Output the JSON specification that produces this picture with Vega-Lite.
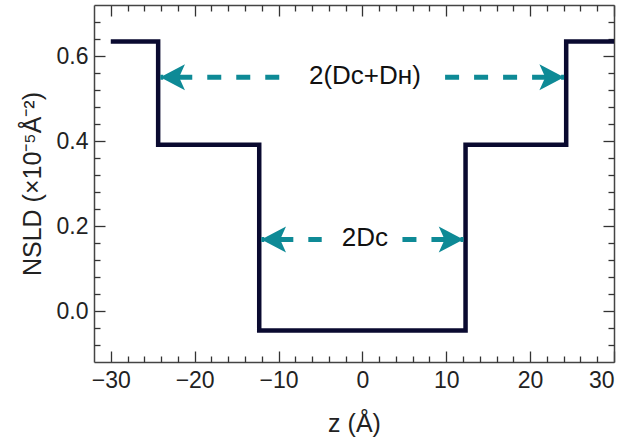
{
  "$schema": "https://vega.github.io/schema/vega-lite/v6.json",
  "autosize": {"type": "none"},
  "width": 520,
  "height": 357,
  "padding": {"left": 94, "top": 5, "right": 14, "bottom": 76},
  "background": "white",
  "config": {
    "view": {"stroke": null},
    "font": "Liberation Sans",
    "axis": {
      "grid": false,
      "domainColor": "#444444",
      "domainWidth": 1.5,
      "tickColor": "#333333",
      "tickWidth": 1.3,
      "labelFont": "Liberation Sans",
      "titleFont": "Liberation Sans",
      "labelColor": "#222222",
      "titleColor": "#222222",
      "labelFontSize": 23,
      "titleFontSize": 25,
      "titleFontWeight": "normal"
    }
  },
  "datasets": {
    "profile": [
      {"i": 0, "z": -30, "nsld": 0.634},
      {"i": 1, "z": -24.35, "nsld": 0.634},
      {"i": 2, "z": -24.35, "nsld": 0.391},
      {"i": 3, "z": -12.3, "nsld": 0.391},
      {"i": 4, "z": -12.3, "nsld": -0.046},
      {"i": 5, "z": 12.3, "nsld": -0.046},
      {"i": 6, "z": 12.3, "nsld": 0.391},
      {"i": 7, "z": 24.3, "nsld": 0.391},
      {"i": 8, "z": 24.3, "nsld": 0.634},
      {"i": 9, "z": 30, "nsld": 0.634}
    ],
    "arrows": [
      {"seg": "ul", "i": 0, "z": -24.1, "nsld": 0.55},
      {"seg": "ul", "i": 1, "z": -9.7, "nsld": 0.55},
      {"seg": "ur", "i": 0, "z": 24.05, "nsld": 0.55},
      {"seg": "ur", "i": 1, "z": 8.85, "nsld": 0.55},
      {"seg": "ll", "i": 0, "z": -12.05, "nsld": 0.168},
      {"seg": "ll", "i": 1, "z": -4.85, "nsld": 0.168},
      {"seg": "lr", "i": 0, "z": 12.05, "nsld": 0.168},
      {"seg": "lr", "i": 1, "z": 4.7, "nsld": 0.168}
    ],
    "heads": [
      {"z": -24.1, "nsld": 0.55, "dir": "left"},
      {"z": 24.05, "nsld": 0.55, "dir": "right"},
      {"z": -12.05, "nsld": 0.168, "dir": "left"},
      {"z": 12.05, "nsld": 0.168, "dir": "right"}
    ],
    "labels": [
      {"z": 0.3, "nsld": 0.553, "text": "2(Dᴄ+Dʜ)"},
      {"z": 0.3, "nsld": 0.171, "text": "2Dᴄ"}
    ]
  },
  "resolve": {"axis": {"x": "independent", "y": "independent"}},
  "layer": [
    {
      "data": {"name": "profile"},
      "mark": {"type": "line", "color": "#0a0a30", "strokeWidth": 4.5, "strokeJoin": "miter"},
      "encoding": {
        "x": {
          "field": "z", "type": "quantitative",
          "scale": {"domain": [-32, 30], "nice": false, "zero": false},
          "axis": {"orient": "bottom", "title": "z (Å)", "values": [-30, -20, -10, 0, 10, 20, 30], "format": "d", "tickSize": -11, "labelPadding": 18, "titlePadding": 19, "domain": true}
        },
        "y": {
          "field": "nsld", "type": "quantitative",
          "scale": {"domain": [-0.12, 0.72], "nice": false, "zero": false},
          "axis": {"orient": "left", "title": "NSLD (×10⁻⁵Å⁻²)", "values": [0, 0.2, 0.4, 0.6], "format": ".1f", "tickSize": -11, "labelPadding": 17, "titlePadding": 11, "domain": true}
        },
        "order": {"field": "i", "type": "quantitative"}
      }
    },
    {
      "data": {"name": "arrows"},
      "mark": {"type": "line", "color": "#0e8a96", "strokeWidth": 5, "strokeDash": [14, 15], "strokeDashOffset": 11, "strokeCap": "butt"},
      "encoding": {
        "x": {
          "field": "z", "type": "quantitative",
          "axis": {"orient": "bottom", "title": null, "labels": false, "domain": false, "tickSize": -6,
            "values": [-28, -26, -24, -22, -18, -16, -14, -12, -8, -6, -4, -2, 2, 4, 6, 8, 12, 14, 16, 18, 22, 24, 26, 28]}
        },
        "y": {
          "field": "nsld", "type": "quantitative",
          "axis": {"orient": "left", "title": null, "labels": false, "domain": false, "tickSize": -6,
            "values": [-0.08, -0.04, 0.04, 0.08, 0.12, 0.16, 0.24, 0.28, 0.32, 0.36, 0.44, 0.48, 0.52, 0.56, 0.64, 0.68]}
        },
        "detail": {"field": "seg"},
        "order": {"field": "i", "type": "quantitative"}
      }
    },
    {
      "data": {"name": "heads"},
      "mark": {"type": "point", "filled": true, "opacity": 1, "size": 676, "color": "#0e8a96", "strokeWidth": 0},
      "encoding": {
        "x": {
          "field": "z", "type": "quantitative",
          "axis": {"orient": "top", "title": null, "labels": false, "domain": true, "tickSize": -11, "values": [-30, -20, -10, 0, 10, 20, 30]}
        },
        "y": {
          "field": "nsld", "type": "quantitative",
          "axis": {"orient": "right", "title": null, "labels": false, "domain": true, "tickSize": -11, "values": [0, 0.2, 0.4, 0.6]}
        },
        "shape": {
          "field": "dir", "type": "nominal", "legend": null,
          "scale": {"domain": ["left", "right"], "range": ["M0,0 L1.9,-1 L1.45,0 L1.9,1 Z", "M0,0 L-1.9,-1 L-1.45,0 L-1.9,1 Z"]}
        }
      }
    },
    {
      "data": {"name": "labels"},
      "mark": {"type": "text", "font": "Liberation Sans", "fontSize": 26, "color": "#111111", "align": "center", "baseline": "middle"},
      "encoding": {
        "x": {
          "field": "z", "type": "quantitative",
          "axis": {"orient": "top", "title": null, "labels": false, "domain": false, "tickSize": -6,
            "values": [-28, -26, -24, -22, -18, -16, -14, -12, -8, -6, -4, -2, 2, 4, 6, 8, 12, 14, 16, 18, 22, 24, 26, 28]}
        },
        "y": {
          "field": "nsld", "type": "quantitative",
          "axis": {"orient": "right", "title": null, "labels": false, "domain": false, "tickSize": -6,
            "values": [-0.08, -0.04, 0.04, 0.08, 0.12, 0.16, 0.24, 0.28, 0.32, 0.36, 0.44, 0.48, 0.52, 0.56, 0.64, 0.68]}
        },
        "text": {"field": "text"}
      }
    }
  ]
}
